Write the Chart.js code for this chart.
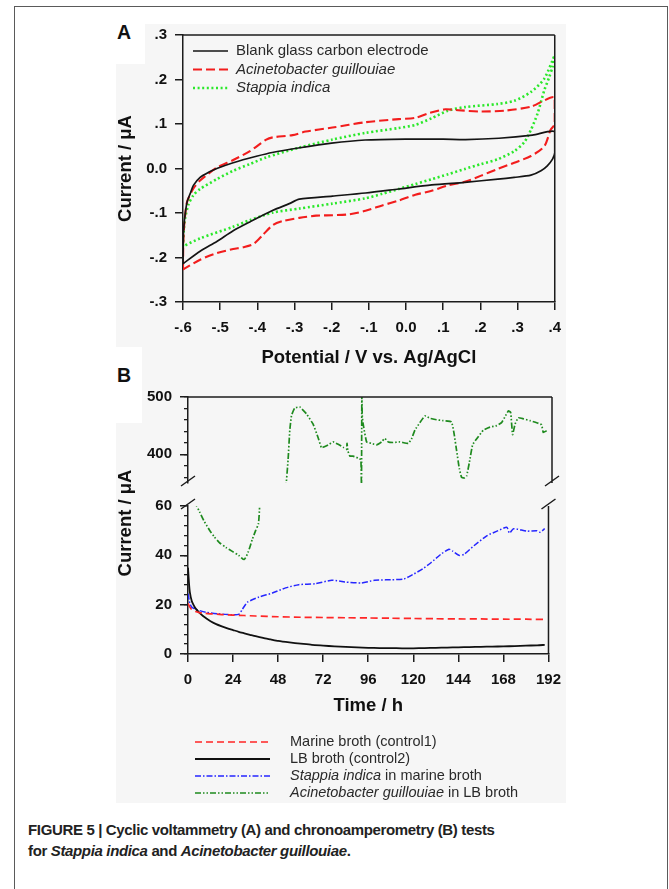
<!DOCTYPE html>
<html>
<head>
<meta charset="utf-8">
<script src="https://cdn.jsdelivr.net/npm/chart.js@4.4.1/dist/chart.umd.min.js"></script>
<style>
  html, body { margin: 0; padding: 0; background: #fff; }
  body { width: 669px; height: 889px; position: relative; overflow: hidden; font-family: "Liberation Sans", Arial, sans-serif; }
  .frame { position: absolute; left: 14px; top: 6px; width: 654px; height: 920px; border: 1.4px solid #5a5a5a; border-bottom: none; box-sizing: border-box; }
  .panel { position: absolute; left: 116px; top: 24px; width: 450px; height: 779px; background: #f6f6f6; }
  .notch { position: absolute; background: #fff; }
  .tag { position: absolute; font-weight: bold; font-size: 19.5px; line-height: 20px; color: #111; }
  canvas { position: absolute; }
  .caption { position: absolute; left: 28px; top: 819px; font-family: "Liberation Sans Narrow", "Arial Narrow", sans-serif; font-weight: bold; font-size: 15px; letter-spacing: -0.35px; line-height: 21px; color: #222; white-space: nowrap; }
</style>
</head>
<body>
<div class="frame"></div>
<div class="panel"></div>
<div class="notch" style="left:116px;top:24px;width:29px;height:40px"></div>
<div class="notch" style="left:116px;top:347px;width:26px;height:76px"></div>
<div class="tag" style="left:117px;top:22px">A</div>
<div class="tag" style="left:117px;top:365px">B</div>

<canvas id="cvChart" width="470" height="360" style="left:100px;top:18px;width:470px;height:360px"></canvas>
<canvas id="caLowChart" width="470" height="430" style="left:100px;top:380px;width:470px;height:430px"></canvas>
<canvas id="caHighChart" width="470" height="120" style="left:100px;top:380px;width:470px;height:120px"></canvas>

<div class="caption">FIGURE 5 | Cyclic voltammetry (A) and chronoamperometry (B) tests<br>for <i>Stappia indica</i> and <i>Acinetobacter guillouiae</i>.</div>

<script>
// ---- panel A: cyclic voltammetry (V vs. Ag/AgCl, µA) ----
const blankPotential = [-0.6, -0.599, -0.596, -0.589, -0.58, -0.572, -0.554, -0.53, -0.509, -0.465, -0.4, -0.36, -0.29, -0.2, -0.11, 0.0, 0.1, 0.16, 0.25, 0.34, 0.4,
  0.4, 0.394, 0.38, 0.363, 0.336, 0.291, 0.247, 0.158, 0.069, -0.02, -0.109, -0.198, -0.287, -0.314, -0.358, -0.42, -0.465, -0.509, -0.554, -0.6];
const blankCurrent = [-0.215, -0.15, -0.115, -0.075, -0.055, -0.038, -0.02, -0.008, 0.0, 0.013, 0.028, 0.036, 0.046, 0.057, 0.064, 0.066, 0.066, 0.065, 0.068, 0.075, 0.083,
  0.035, 0.021, 0.006, -0.005, -0.015, -0.02, -0.024, -0.031, -0.037, -0.046, -0.055, -0.062, -0.069, -0.079, -0.094, -0.12, -0.14, -0.164, -0.186, -0.214];

const acinetoPotential = [-0.6, -0.599, -0.596, -0.589, -0.572, -0.554, -0.509, -0.465, -0.42, -0.376, -0.358, -0.305, -0.27, -0.198, -0.109, -0.02, 0.025, 0.06, 0.105, 0.14, 0.202, 0.265, 0.336, 0.4,
  0.4, 0.389, 0.372, 0.336, 0.291, 0.247, 0.202, 0.158, 0.113, 0.069, 0.025, -0.02, -0.064, -0.109, -0.153, -0.198, -0.242, -0.287, -0.331, -0.358, -0.385, -0.411, -0.438, -0.465, -0.509, -0.554, -0.6];
const acinetoCurrent = [-0.227, -0.16, -0.12, -0.075, -0.045, -0.027, 0.002, 0.019, 0.039, 0.065, 0.07, 0.075, 0.083, 0.092, 0.104, 0.111, 0.114, 0.124, 0.133, 0.131, 0.128, 0.13, 0.139, 0.16,
  0.1, 0.087, 0.05, 0.028, 0.013, -0.001, -0.016, -0.03, -0.038, -0.05, -0.059, -0.072, -0.083, -0.095, -0.103, -0.105, -0.106, -0.111, -0.118, -0.127, -0.149, -0.17, -0.177, -0.181, -0.19, -0.205, -0.227];

const stappiaPotential = [-0.6, -0.598, -0.594, -0.585, -0.572, -0.554, -0.509, -0.465, -0.42, -0.376, -0.287, -0.198, -0.109, -0.02, 0.025, 0.069, 0.113, 0.158, 0.247, 0.291, 0.336, 0.372, 0.4,
  0.394, 0.385, 0.372, 0.354, 0.336, 0.318, 0.291, 0.247, 0.202, 0.158, 0.113, 0.069, 0.025, -0.02, -0.064, -0.109, -0.198, -0.287, -0.358, -0.42, -0.465, -0.554, -0.6];
const stappiaCurrent = [-0.175, -0.14, -0.11, -0.08, -0.06, -0.046, -0.024, -0.005, 0.01, 0.025, 0.047, 0.065, 0.08, 0.091, 0.098, 0.113, 0.13, 0.138, 0.145, 0.152, 0.172, 0.202, 0.254,
  0.228, 0.205, 0.176, 0.124, 0.087, 0.059, 0.039, 0.021, 0.01, -0.001, -0.013, -0.024, -0.035, -0.046, -0.057, -0.067, -0.079, -0.09, -0.099, -0.116, -0.131, -0.157, -0.175];

const cvPotentialTicks = ['-.6', '-.5', '-.4', '-.3', '-.2', '-.1', '0.0', '.1', '.2', '.3', '.4'];
const cvCurrentTicks = ['-.3', '-.2', '-.1', '0.0', '.1', '.2', '.3'];

// ---- panel B: chronoamperometry (h, µA) ----
const marineHours = [0, 1, 2, 4, 6, 9, 12, 18, 24, 30, 36, 48, 60, 72, 84, 96, 108, 120, 132, 144, 156, 168, 180, 190];
const marineCurrent = [20.5, 19.0, 18.0, 17.2, 16.8, 16.5, 16.3, 16.0, 15.8, 15.6, 15.4, 15.1, 14.9, 14.8, 14.7, 14.6, 14.5, 14.4, 14.3, 14.2, 14.2, 14.1, 14.1, 14.0];

const lbHours = [0, 0.5, 1, 2, 3, 4, 6, 8, 10, 12, 15, 18, 21, 24, 27, 30, 33, 36, 40, 44, 48, 54, 60, 66, 72, 78, 84, 90, 96, 102, 108, 114, 120, 126, 132, 138, 144, 150, 156, 162, 168, 174, 180, 186, 190];
const lbCurrent = [35, 29, 25, 21.5, 19.8, 18.5, 16.8, 15.4, 14.3, 13.3, 12.1, 11.2, 10.4, 9.7, 9.0, 8.4, 7.8, 7.2, 6.5, 5.9, 5.3, 4.7, 4.2, 3.7, 3.4, 3.1, 2.9, 2.7, 2.5, 2.4, 2.4, 2.3, 2.3, 2.4, 2.5, 2.6, 2.7, 2.8, 2.9, 3.0, 3.1, 3.2, 3.4, 3.5, 3.7];

const stappiaHours = [0, 1, 2, 4.4, 9.7, 16, 23.8, 27.3, 29, 31.7, 37.8, 44.9, 52, 59, 67.8, 76.6, 83.6, 92.4, 99.4, 108, 115, 119.7, 125, 129.4, 134.6, 139, 140.8, 144.3, 147, 152.3, 159.3, 164.6, 169.8, 171.2, 173.4, 180.4, 185.7, 187.5, 190];
const stappiaBrothCurrent = [24.5, 20.5, 19, 18, 16.9, 16.3, 15.9, 16.2, 18.2, 21, 23.1, 24.7, 26.8, 28.1, 28.5, 29.9, 29.2, 28.8, 29.9, 30.1, 30.4, 32.2, 34.5, 37, 40.4, 42.5, 41.8, 40, 40.4, 43.9, 48, 49.8, 51.4, 49, 50.8, 49.8, 50, 49.4, 50.8];

// Acinetobacter run: low part (below the axis break) and high part (above it)
const acinetoLowHours = [3.8, 4.4, 6.2, 8.5, 11.4, 14, 16.7, 20.2, 23.8, 27, 29.9, 32, 34.3, 36, 37.5, 38.2, 38.4];
const acinetoLowCurrent = [62, 60.4, 57.6, 54, 50.3, 47.5, 45.2, 43.2, 41.5, 40, 38.3, 41.2, 46.6, 50, 52.8, 60.4, 63];
const acinetoHighHours = [51.6, 52.8, 53.7, 54.6, 56.3, 59.0, 62.5, 66.0, 68.6, 70.4, 71.6, 73.9, 76.6, 79.2, 81.8, 83.6, 83.9, 84.3, 85.4, 87.1, 89.8, 91.2, 91.5, 91.7, 91.9, 92.4, 94.2, 96.8, 99.4, 102.1, 103.8, 105.6, 108.2, 111.8, 116.2, 117.9, 119.7, 122.3, 125.0, 127.6, 131.1, 134.6, 139.0, 140.3, 141.7, 143.1, 144.3, 146.1, 147.0, 148.4, 150.1, 152.2, 155.8, 159.3, 162.8, 165.4, 167.2, 169.0, 170.2, 171.2, 172.5, 174.2, 176.9, 180.4, 183.9, 186.5, 187.4, 189.2, 190.1];
const acinetoHighCurrent = [340, 390.7, 442.3, 468.0, 480.9, 482.5, 470.6, 452.6, 429.4, 411.3, 412.9, 416.5, 421.6, 417.5, 412.4, 408.8, 419.1, 406.2, 396.9, 396.9, 393.3, 390.7, 340, 505, 468.0, 452.6, 421.6, 419.1, 416.5, 421.6, 427.8, 421.6, 420.6, 421.6, 419.1, 426.8, 442.3, 455.2, 467.0, 462.9, 460.3, 458.8, 456.7, 437.1, 406.2, 375.3, 359.8, 358.8, 362.4, 385.6, 416.5, 426.8, 442.3, 447.4, 450.0, 455.2, 465.5, 475.8, 473.2, 434.5, 452.6, 463.9, 461.9, 458.8, 455.2, 451.5, 438.1, 441.2, 442.3];

const AXIS = '#1c1c1c';
const FONT = '"Liberation Sans", Arial, sans-serif';
const tickFont = { family: FONT, size: 15, weight: 'bold' };
const titleFont = { family: FONT, size: 18.5, weight: 'bold' };

Chart.defaults.font.family = FONT;
Chart.defaults.color = '#111';

const pairs = (xs, ys) => xs.map((x, i) => ({ x: x, y: ys[i] }));

// box lines on the sides Chart.js does not draw, plus the "//" axis break marks
function framePlugin(sides, breaks) {
  return {
    id: 'frameLines',
    afterDraw(chart) {
      const { ctx, chartArea: a } = chart;
      ctx.save();
      ctx.strokeStyle = AXIS;
      ctx.lineWidth = 1.5;
      ctx.beginPath();
      if (sides.includes('top')) { ctx.moveTo(a.left, a.top); ctx.lineTo(a.right, a.top); }
      if (sides.includes('right')) { ctx.moveTo(a.right, a.top); ctx.lineTo(a.right, a.bottom); }
      (breaks || []).forEach(b => {
        const y = b.edge === 'top' ? a.top + b.dy : a.bottom + b.dy;
        [a.left, a.right].forEach(x => { ctx.moveTo(x - 7, y + 5); ctx.lineTo(x + 7, y - 5); });
      });
      ctx.stroke();
      ctx.restore();
    }
  };
}

// line-sample legend, with italic species names
function legendPlugin(cfg) {
  return {
    id: 'sampleLegend',
    afterDraw(chart) {
      const ctx = chart.ctx;
      ctx.save();
      chart.data.datasets.forEach((ds, i) => {
        if (!ds.legendParts) return;
        const y = cfg.y + i * cfg.dy;
        ctx.beginPath();
        ctx.setLineDash(ds.borderDash || []);
        ctx.strokeStyle = ds.borderColor;
        ctx.lineWidth = ds.borderWidth;
        ctx.moveTo(cfg.x, y);
        ctx.lineTo(cfg.x + cfg.len, y);
        ctx.stroke();
        ctx.setLineDash([]);
        ctx.fillStyle = '#2a2a2a';
        ctx.textBaseline = 'middle';
        let tx = cfg.textX;
        ds.legendParts.forEach(p => {
          ctx.font = (p.italic ? 'italic ' : '') + cfg.size + 'px ' + FONT;
          ctx.fillText(p.text, tx, y);
          tx += ctx.measureText(p.text).width;
        });
      });
      ctx.restore();
    }
  };
}

// y title of panel B spans both halves of the broken axis
function sideTitlePlugin(text, x, y) {
  return {
    id: 'sideTitle',
    afterDraw(chart) {
      const ctx = chart.ctx;
      ctx.save();
      ctx.translate(x, y);
      ctx.rotate(-Math.PI / 2);
      ctx.font = 'bold ' + titleFont.size + 'px ' + FONT;
      ctx.fillStyle = '#111';
      ctx.textAlign = 'center';
      ctx.textBaseline = 'middle';
      ctx.fillText(text, 0, 0);
      ctx.restore();
    }
  };
}

function axisStyle(tickLength) {
  return {
    grid: { drawOnChartArea: false, tickLength: tickLength, color: AXIS, lineWidth: 1.5 },
    border: { color: AXIS, width: 1.5 }
  };
}

new Chart(document.getElementById('cvChart'), {
  type: 'scatter',
  data: {
    datasets: [
      { label: 'Blank glass carbon electrode', data: pairs(blankPotential, blankCurrent),
        borderColor: '#141414', borderWidth: 1.7, legendParts: [{ text: 'Blank glass carbon electrode' }] },
      { label: 'Acinetobacter guillouiae', data: pairs(acinetoPotential, acinetoCurrent),
        borderColor: '#f21d1d', borderWidth: 2.1, borderDash: [9, 4], legendParts: [{ text: 'Acinetobacter guillouiae', italic: true }] },
      { label: 'Stappia indica', data: pairs(stappiaPotential, stappiaCurrent),
        borderColor: '#2be82b', borderWidth: 2.6, borderDash: [2, 2.6], legendParts: [{ text: 'Stappia indica', italic: true }] }
    ].map(ds => Object.assign(ds, { showLine: true, pointRadius: 0, tension: 0.25, fill: false }))
  },
  options: {
    responsive: false,
    animation: false,
    layout: { padding: { left: 0, top: 13, right: 13, bottom: 0 } },
    plugins: { legend: { display: false }, tooltip: { enabled: false } },
    scales: {
      x: Object.assign(axisStyle(8), {
        type: 'linear', min: -0.6, max: 0.4,
        ticks: { stepSize: 0.1, autoSkip: false, maxRotation: 0, padding: 9, font: tickFont, color: '#111',
          callback: (v, i) => cvPotentialTicks[i] },
        title: { display: true, text: 'Potential / V vs. Ag/AgCl', font: titleFont, color: '#111', padding: { top: 0, bottom: 9 } },
        afterFit: s => { s.height = 76; }
      }),
      y: Object.assign(axisStyle(8), {
        type: 'linear', min: -0.3, max: 0.3,
        ticks: { stepSize: 0.1, autoSkip: false, padding: 8, font: tickFont, color: '#111',
          callback: (v, i) => cvCurrentTicks[i] },
        title: { display: true, text: 'Current / μA', font: titleFont, color: '#111', padding: { top: 15, bottom: 0 } },
        afterFit: s => { s.width = 83; }
      })
    }
  },
  plugins: [framePlugin(['top', 'right']), legendPlugin({ x: 93, len: 35, textX: 136, y: 33, dy: 18.5, size: 15 })]
});

const lineDefaults = { pointRadius: 0, tension: 0.2, fill: false, spanGaps: false };

// lower half of panel B (0-60 µA), with the legend underneath
new Chart(document.getElementById('caLowChart'), {
  type: 'line',
  data: {
    datasets: [
      { label: 'Marine broth (control1)', data: pairs(marineHours, marineCurrent),
        borderColor: '#ff2626', borderWidth: 1.7, borderDash: [7, 4], legendParts: [{ text: 'Marine broth (control1)' }] },
      { label: 'LB broth (control2)', data: pairs(lbHours, lbCurrent),
        borderColor: '#111', borderWidth: 1.8, legendParts: [{ text: 'LB broth (control2)' }] },
      { label: 'Stappia indica in marine broth', data: pairs(stappiaHours, stappiaBrothCurrent),
        borderColor: '#2626ff', borderWidth: 1.5, borderDash: [6, 2, 1.5, 2],
        legendParts: [{ text: 'Stappia indica', italic: true }, { text: ' in marine broth' }] },
      { label: 'Acinetobacter guillouiae in LB broth', data: pairs(acinetoLowHours, acinetoLowCurrent),
        borderColor: '#1e8a1e', borderWidth: 1.7, borderDash: [6, 2, 1.5, 2, 1.5, 2],
        legendParts: [{ text: 'Acinetobacter guillouiae', italic: true }, { text: ' in LB broth' }] }
    ].map(ds => Object.assign(ds, lineDefaults))
  },
  options: {
    responsive: false,
    animation: false,
    layout: { padding: { left: 0, top: 126, right: 18, bottom: 90 } },
    plugins: { legend: { display: false }, tooltip: { enabled: false } },
    scales: {
      x: Object.assign(axisStyle(8), {
        type: 'linear', min: 0, max: 192,
        ticks: { stepSize: 24, autoSkip: false, maxRotation: 0, padding: 9, font: tickFont, color: '#111' },
        title: { display: true, text: 'Time / h', font: titleFont, color: '#111', padding: { top: 0, bottom: 3 } },
        afterFit: s => { s.height = 66; }
      }),
      y: Object.assign(axisStyle(8), {
        type: 'linear', min: 0, max: 60, weight: 1,
        ticks: { stepSize: 20, autoSkip: false, padding: 8, font: tickFont, color: '#111' },
        afterFit: s => { s.width = 88; }
      }),
      yMinor: {
        type: 'linear', position: 'left', min: 0, max: 60, weight: 0,
        ticks: { stepSize: 4, display: false },
        grid: { drawOnChartArea: false, tickLength: 4, color: AXIS, lineWidth: 1.3 },
        border: { display: false },
        afterFit: s => { s.width = 0; }
      }
    }
  },
  plugins: [
    framePlugin(['right'], [{ edge: 'top', dy: -2 }]),
    legendPlugin({ x: 95, len: 75, textX: 190, y: 362, dy: 17, size: 14.5 }),
    sideTitlePlugin('Current / μA', 26, 143)
  ]
});

// upper half of panel B (350-500 µA)
new Chart(document.getElementById('caHighChart'), {
  type: 'line',
  data: {
    datasets: [
      { label: 'Acinetobacter guillouiae in LB broth', data: pairs(acinetoHighHours, acinetoHighCurrent),
        borderColor: '#1e8a1e', borderWidth: 1.7, borderDash: [6, 2, 1.5, 2, 1.5, 2] }
    ].map(ds => Object.assign(ds, lineDefaults, { tension: 0.1 }))
  },
  options: {
    responsive: false,
    animation: false,
    layout: { padding: { left: 0, top: 13, right: 18, bottom: 11 } },
    plugins: { legend: { display: false }, tooltip: { enabled: false } },
    scales: {
      x: { type: 'linear', min: 0, max: 192, display: false },
      y: Object.assign(axisStyle(8), {
        type: 'linear', min: 350, max: 500, weight: 1,
        ticks: { stepSize: 100, includeBounds: false, autoSkip: false, padding: 8, font: tickFont, color: '#111' },
        afterFit: s => { s.width = 88; }
      }),
      yMinor: {
        type: 'linear', position: 'left', min: 350, max: 500, weight: 0,
        ticks: { stepSize: 20, includeBounds: false, display: false },
        grid: { drawOnChartArea: false, tickLength: 4, color: AXIS, lineWidth: 1.3 },
        border: { display: false },
        afterFit: s => { s.width = 0; }
      }
    }
  },
  plugins: [framePlugin(['top', 'right'], [{ edge: 'bottom', dy: -2 }])]
});
</script>
</body>
</html>
